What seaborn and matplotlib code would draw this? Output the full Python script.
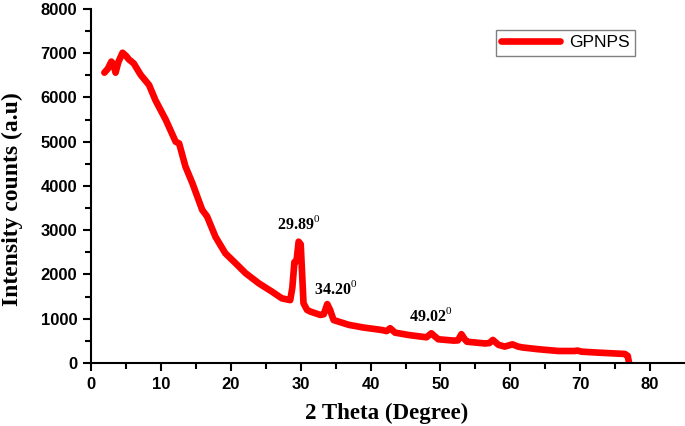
import pandas as pd
import seaborn as sns
import matplotlib.pyplot as plt

# XRD pattern
two_theta = [1.9, 2.4, 2.9, 3.2, 3.5, 3.9, 4.5, 5.0, 5.4, 6.1, 7.1, 8.3, 9.2, 10.7,
             12.1, 12.6, 13.5, 14.5, 15.9, 16.6, 17.8, 19.2, 20.7, 22.1, 24.0, 25.9,
             27.3, 28.5, 28.8, 29.1, 29.4, 29.7, 30.0, 30.4, 30.9, 31.4, 32.8, 33.3,
             33.8, 34.2, 34.7, 36.9, 39.0, 41.6, 42.3, 42.8, 43.5, 45.5, 48.0, 48.7,
             49.2, 49.7, 51.9, 52.5, 53.0, 53.5, 53.8, 56.4, 57.0, 57.5, 58.3, 59.2,
             60.3, 61.1, 61.7, 64.0, 66.9, 69.2, 69.6, 70.2, 72.6, 76.4, 76.8, 77.0]
intensity = [6560, 6650, 6810, 6750, 6560, 6800, 7010, 6940, 6860, 6770, 6510, 6280,
             5940, 5490, 5000, 4960, 4440, 4060, 3460, 3310, 2850, 2480, 2250, 2030,
             1800, 1610, 1460, 1420, 1700, 2280, 2300, 2740, 2680, 1350, 1200, 1160,
             1085, 1100, 1330, 1200, 970, 860, 800, 745, 720, 785, 685, 630, 580, 670,
             600, 535, 505, 510, 650, 530, 480, 440, 450, 520, 410, 370, 420, 370, 351,
             310, 270, 270, 280, 255, 233, 203, 160, 0]
series = ["GPNPS"] * len(two_theta)

peak_labels = ["29.89", "34.20", "49.02"]
peak_x = [29.7, 35.0, 48.6]
peak_y = [2930, 1460, 860]

df = pd.DataFrame({"2 Theta": two_theta, "Intensity": intensity, "sample": series})

sns.set_style("ticks")
plt.rcParams["font.family"] = ["Liberation Sans", "DejaVu Sans"]
plt.rcParams["mathtext.fontset"] = "custom"
plt.rcParams["mathtext.rm"] = "Liberation Serif"
plt.rcParams["mathtext.bf"] = "Liberation Serif:bold"
for key in ["text.color", "axes.labelcolor", "xtick.color", "ytick.color", "axes.edgecolor"]:
    plt.rcParams[key] = "black"

fig, ax = plt.subplots(figsize=(6.85, 4.26), dpi=100)
fig.subplots_adjust(left=0.133, right=1.0, bottom=0.148, top=0.979)

sns.lineplot(data=df, x="2 Theta", y="Intensity", hue="sample", palette=["#ff0000"],
             linewidth=4.8, ax=ax, sort=False, estimator=None)

ax.set_xlim(0, 85)
ax.set_ylim(0, 8000)
ax.set_xticks(range(0, 81, 10))
ax.set_xticks(range(5, 85, 10), minor=True)
ax.set_yticks(range(0, 8001, 1000))
ax.set_yticks(range(500, 8000, 1000), minor=True)
ax.tick_params(which="major", direction="out", length=6, width=1.5, labelsize=12, pad=4)
ax.tick_params(which="minor", direction="out", length=4, width=1.5)
for lab in ax.get_xticklabels() + ax.get_yticklabels():
    lab.set_fontweight("bold")
for side in ["top", "right"]:
    ax.spines[side].set_visible(False)
for side in ["left", "bottom"]:
    ax.spines[side].set_linewidth(1.5)

ax.set_xlabel("2 Theta (Degree)", family="Liberation Serif", fontweight="bold", fontsize=16.5)
ax.set_ylabel("Intensity counts (a.u)", family="Liberation Serif", fontweight="bold", fontsize=17)
ax.xaxis.set_label_coords(0.497, -0.113)
ax.yaxis.set_label_coords(-0.114, 0.463)

for lab, px, py in zip(peak_labels, peak_x, peak_y):
    ax.text(px, py, lab + r"$^{0}$", family="Liberation Serif", fontweight="bold",
            fontsize=11.5, ha="center", va="bottom")

leg = ax.legend(loc="upper right", bbox_to_anchor=(0.93, 0.965), fontsize=12.5,
                handlelength=3.4, fancybox=False, framealpha=1, borderpad=0.3,
                handletextpad=0.5)
leg.get_frame().set_edgecolor("#808080")
leg.get_frame().set_linewidth(1.0)

plt.savefig("out.png", dpi=100)
